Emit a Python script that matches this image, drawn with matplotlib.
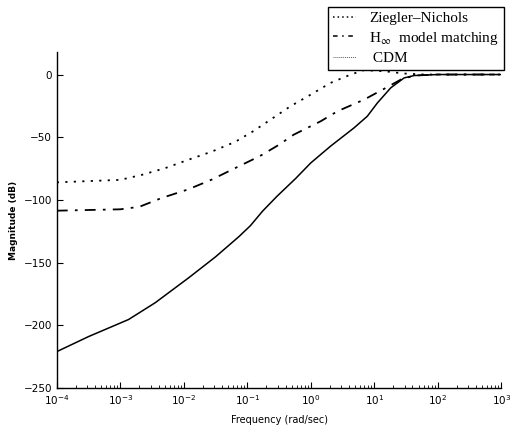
import matplotlib
matplotlib.use('Agg')
import matplotlib.pyplot as plt
from matplotlib.lines import Line2D
import numpy as np

# frequency read as log10(w), magnitude in dB
zn_logw = [-4, -3, -2.66, -2.29, -1.93, -1.56, -1.19, -0.9, -0.635, -0.32, 0, 0.31, 0.63, 0.84, 1.15, 1.47, 1.78, 3]
zn_db = [-86, -84, -80, -74.6, -68, -61.5, -53.7, -45, -36, -25.3, -16, -6.7, 0, 3.5, 2.7, 0.8, 0, 0]

hinf_logw = [-4, -3, -2.7, -2.35, -1.93, -1.56, -1.19, -0.8, -0.5, -0.27, 0.155, 0.42, 0.84, 1.155, 1.42, 1.63, 2, 3]
hinf_db = [-108.6, -107.5, -105.5, -98.5, -91.6, -83.8, -74.6, -65, -56, -48, -37.3, -29.3, -20, -11.4, -4, -0.8, 0, 0]

cdm_logw = [-4, -3.5, -2.87, -2.45, -1.92, -1.5, -1.13, -0.95, -0.76, -0.53, -0.24, 0, 0.31, 0.68, 0.89, 1.05, 1.26, 1.47, 1.63, 2, 3]
cdm_db = [-221, -209, -195.4, -182, -162, -145.4, -129.2, -120.5, -109, -97, -83, -70.5, -57.2, -42.6, -33.3, -22.6, -10.6, -2.7, -0.8, 0, 0]

labels = ['Ziegler\u2013Nichols', 'H$_{\\infty}$  model matching', ' CDM']
yticks = [0, -50, -100, -150, -200, -250]

plt.rcParams['mathtext.fontset'] = 'stix'

fig = plt.figure(figsize=(5.12, 4.33), dpi=100)
ax = fig.add_axes([0.111, 0.104, 0.868, 0.776])

w = lambda lw: 10.0 ** np.array(lw)
ax.plot(w(zn_logw), zn_db, color='black', lw=1.3, linestyle=(0, (1.2, 3.5)))
ax.plot(w(hinf_logw), hinf_db, color='black', lw=1.3, linestyle=(0, (6, 4, 1.5, 4)))
ax.plot(w(cdm_logw), cdm_db, color='black', lw=1.1)

ax.set_xscale('log')
ax.set_xlim(1e-4, 1e3)
ax.set_ylim(-250, 18)
ax.set_yticks(yticks)
ax.set_xticks([10.0 ** k for k in range(-4, 4)])

for s in ['top', 'right']:
	ax.spines[s].set_visible(False)
for s in ['left', 'bottom']:
	ax.spines[s].set_linewidth(1.0)

ax.tick_params(which='both', direction='in', labelsize=7.5, top=False, right=False)
ax.tick_params(which='major', length=4)
ax.tick_params(which='minor', length=2.5)
ax.tick_params(axis='y', which='minor', left=False)

ax.set_xlabel('Frequency (rad/sec)', fontsize=7, labelpad=6)
ax.set_ylabel('Magnitude (dB)', fontsize=6.5, fontweight='bold', labelpad=4)

handles = [
	Line2D([], [], color='black', lw=1.1, linestyle=(0, (1, 2))),
	Line2D([], [], color='black', lw=1.1, linestyle=(0, (3, 3, 1, 3))),
	Line2D([], [], color='0.35', lw=0.7, linestyle=(0, (1, 1))),
]
leg = fig.legend(handles, labels, loc='upper right', bbox_to_anchor=(0.984, 0.984),
	prop={'family': 'Liberation Serif', 'size': 11}, fancybox=False, edgecolor='black',
	framealpha=1, handlelength=1.5, handletextpad=0.9, borderpad=0.3, labelspacing=0.3,
	borderaxespad=0)
leg.get_frame().set_linewidth(1.0)

fig.savefig('out.png', dpi=100)
